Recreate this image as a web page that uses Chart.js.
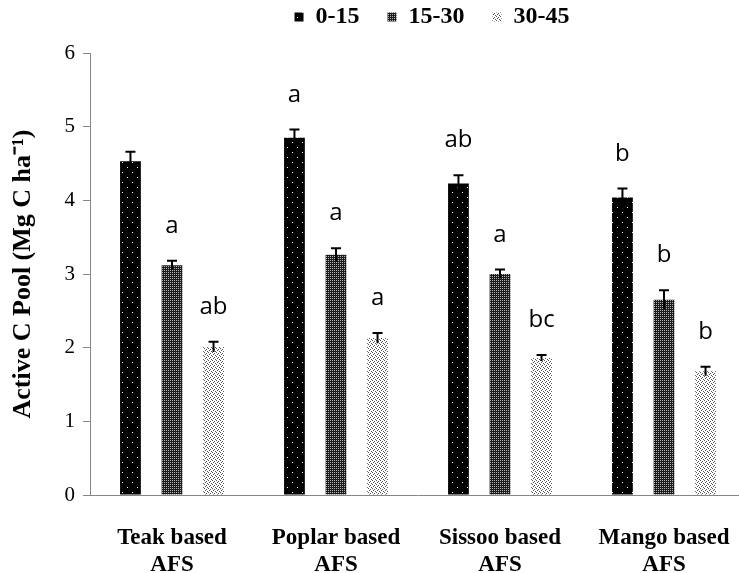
<!DOCTYPE html>
<html>
<head>
<meta charset="utf-8">
<script src="https://cdn.jsdelivr.net/npm/chart.js@4"></script>
<style>
  html, body { margin: 0; padding: 0; background: #fff; overflow: hidden; }
  #chart { display: block; }
</style>
</head>
<body>
<canvas id="chart" width="746" height="573"></canvas>
<script>
const categories = [["Teak based", "AFS"], ["Poplar based", "AFS"], ["Sissoo based", "AFS"], ["Mango based", "AFS"]];
const depths = ["0-15", "15-30", "30-45"];

const pool0to15 = [4.53, 4.85, 4.23, 4.04];
const pool15to30 = [3.12, 3.26, 3.00, 2.65];
const pool30to45 = [2.01, 2.13, 1.86, 1.68];

const err0to15 = [0.13, 0.11, 0.11, 0.12];
const err15to30 = [0.06, 0.09, 0.06, 0.13];
const err30to45 = [0.07, 0.07, 0.04, 0.06];

const letters0to15 = ["", "a", "ab", "b"];
const letters15to30 = ["a", "a", "a", "b"];
const letters30to45 = ["ab", "a", "bc", "b"];

const yTicks = [0, 1, 2, 3, 4, 5, 6];

const AXIS_GREY = "#868686";
const SERIF = '"Liberation Serif", "Times New Roman", serif';

// small tiled fills that imitate the office-style hatch patterns
function makePattern(size, bg, fg, dots) {
  const c = document.createElement("canvas");
  c.width = c.height = size;
  const x = c.getContext("2d");
  x.fillStyle = bg;
  x.fillRect(0, 0, size, size);
  x.fillStyle = fg;
  dots.forEach(([a, b]) => x.fillRect(a, b, 1, 1));
  return x.createPattern(c, "repeat");
}

const fillDark = makePattern(10, "#000", "#fff", [[2, 2], [7, 7]]);
const fillMesh = makePattern(2, "#1c1c1c", "#b4b4b4", [[0, 0]]);
const fillLight = makePattern(4, "#fff", "#555", [[0, 0], [2, 1], [1, 2], [3, 3]]);

// error bars + significance letters on top of each bar
const errorBars = {
  id: "errorBars",
  afterDatasetsDraw(chart) {
    const { ctx } = chart;
    const y = chart.scales.y;
    ctx.save();
    ctx.strokeStyle = "#000";
    ctx.lineWidth = 2;
    ctx.fillStyle = "#000";
    ctx.font = '24px "Open Sans", sans-serif';
    ctx.textAlign = "center";
    ctx.textBaseline = "alphabetic";
    chart.data.datasets.forEach((ds, i) => {
      chart.getDatasetMeta(i).data.forEach((bar, j) => {
        const v = ds.data[j];
        const e = ds.errors[j];
        const top = y.getPixelForValue(v + e);
        const bot = y.getPixelForValue(v - e);
        ctx.beginPath();
        ctx.moveTo(bar.x, top);
        ctx.lineTo(bar.x, bot);
        ctx.moveTo(bar.x - 5, top);
        ctx.lineTo(bar.x + 5, top);
        ctx.stroke();
        if (ds.letters[j]) ctx.fillText(ds.letters[j], bar.x, top - 28);
      });
    });
    ctx.restore();
  },
};

// keep the legend row short and nudge it right, as in the reference
const legendTweak = {
  id: "legendTweak",
  beforeLayout(chart) {
    const lg = chart.legend;
    if (lg && !lg._patched) {
      const fit = lg.fit;
      lg.fit = function () {
        fit.call(this);
        this.height = 76;
      };
      lg._patched = true;
    }
  },
  afterLayout(chart) {
    chart.legend.left += 14;
    chart.legend.right += 14;
  },
};

new Chart(document.getElementById("chart"), {
  type: "bar",
  data: {
    labels: categories,
    datasets: [
      { label: depths[0], data: pool0to15, errors: err0to15, letters: letters0to15, backgroundColor: fillDark },
      { label: depths[1], data: pool15to30, errors: err15to30, letters: letters15to30, backgroundColor: fillMesh },
      { label: depths[2], data: pool30to45, errors: err30to45, letters: letters30to45, backgroundColor: fillLight },
    ],
  },
  options: {
    responsive: false,
    animation: false,
    layout: { padding: { top: -23, left: 0, right: 0, bottom: 0 } },
    datasets: { bar: { categoryPercentage: 0.76, barPercentage: 0.5, borderWidth: 0 } },
    scales: {
      x: {
        // invisible tick marks give the gap under the axis without side padding
        grid: { display: true, drawOnChartArea: false, drawTicks: true, tickLength: 29, color: "rgba(0,0,0,0)" },
        border: { display: true, color: AXIS_GREY, width: 1 },
        ticks: { color: "#000", padding: 0, maxRotation: 0, font: { family: SERIF, size: 23, weight: "bold" } },
        afterFit(s) { s.height = 78; },
      },
      y: {
        min: 0,
        max: 6,
        afterBuildTicks(s) { s.ticks = yTicks.map((v) => ({ value: v })); },
        ticks: { color: "#000", padding: 8, font: { family: SERIF, size: 21 } },
        grid: { drawOnChartArea: false, drawTicks: true, tickLength: 7, color: AXIS_GREY },
        border: { display: true, color: AXIS_GREY, width: 1 },
        title: {
          display: true,
          text: "Active C Pool (Mg C ha\u207B\u00B9)",
          color: "#000",
          font: { family: SERIF, size: 26, weight: "bold" },
          padding: { top: 8, bottom: 0 },
        },
        afterFit(s) { s.width = 90; },
      },
    },
    plugins: {
      legend: {
        position: "top",
        fullSize: false,
        labels: { boxWidth: 9, boxHeight: 9, padding: 28, color: "#000", font: { family: SERIF, size: 24, weight: "bold" } },
      },
      tooltip: { enabled: false },
    },
  },
  plugins: [errorBars, legendTweak],
});
</script>
</body>
</html>
